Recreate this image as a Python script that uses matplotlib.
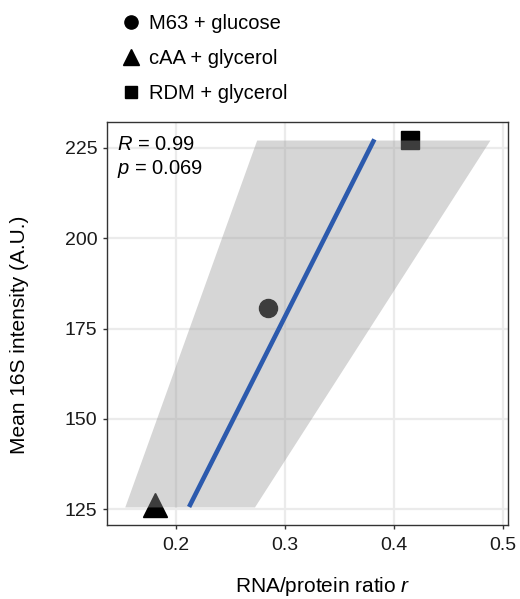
import numpy as np
import matplotlib
matplotlib.use('Agg')
from matplotlib import pyplot as plt
from matplotlib.lines import Line2D

plt.rcParams['font.family'] = ['Liberation Sans', 'DejaVu Sans']
plt.rcParams['mathtext.fontset'] = 'custom'
plt.rcParams['mathtext.it'] = 'Liberation Sans:italic'
plt.rcParams['mathtext.rm'] = 'Liberation Sans'

conditions = ['M63 + glucose', 'cAA + glycerol', 'RDM + glycerol']
markers = ['o', '^', 's']
ratio = [0.284, 0.181, 0.415]
intensity = [180.8, 126.1, 227.2]

# regression line and confidence band
fit_x = [0.212, 0.382]
fit_y = [125.6, 227.4]
band_y = [125.6, 227.2]
band_lo = [0.153, 0.274]
band_hi = [0.272, 0.488]

x_ticks = [0.2, 0.3, 0.4, 0.5]
y_ticks = [125, 150, 175, 200, 225]

fig = plt.figure(figsize=(5.2, 5.99), dpi=100)
ax = fig.add_axes([107 / 520, 1 - 525 / 599, 401 / 520, 403 / 599])

marker_sizes = {'o': 13, '^': 17, 's': 12.5}
for label, m, x, y in zip(conditions, markers, ratio, intensity):
    ax.plot([x], [y], marker=m, color='black', ms=marker_sizes[m],
            ls='none', zorder=2)

ax.fill_betweenx(band_y, band_lo, band_hi, color='#999999', alpha=0.4,
                 lw=0, zorder=3)
ax.plot(fit_x, fit_y, color='#2c5aad', lw=3.3, solid_capstyle='butt',
        zorder=4)

ax.set_xlim(0.1367, 0.5046)
ax.set_ylim(120.6, 232.2)
ax.set_xticks(x_ticks)
ax.set_xticklabels([f'{v:g}' for v in x_ticks])
ax.set_yticks(y_ticks)
ax.grid(True, color='#ebebeb', lw=1.6, zorder=0)
ax.set_axisbelow(True)
for side in ax.spines.values():
    side.set_color('#333333')
    side.set_linewidth(1.0)
ax.tick_params(length=3, width=1, color='#333333', labelsize=14,
               labelcolor='#1a1a1a')
ax.tick_params(axis='x', pad=6)
ax.tick_params(axis='y', pad=4)

ax.set_xlabel('RNA/protein ratio $\\it{r}$', fontsize=15)
ax.set_ylabel('Mean 16S intensity (A.U.)', fontsize=15)
ax.xaxis.set_label_coords((323 - 107) / 401, (525 - 587) / 403)
ax.yaxis.set_label_coords((20 - 107) / 401, (525 - 335) / 403)
ax.xaxis.label.set_va('center')
ax.yaxis.label.set_va('center')

ax.text((117 - 107) / 401, (525 - 145) / 403, '$\\it{R}$ = 0.99',
        transform=ax.transAxes, fontsize=14.5, va='center', ha='left')
ax.text((117 - 107) / 401, (525 - 169) / 403, '$\\it{p}$ = 0.069',
        transform=ax.transAxes, fontsize=14.5, va='center', ha='left')

legend_sizes = {'o': 9.5, '^': 11.5, 's': 8.5}
handles = [Line2D([], [], marker=m, color='black', ls='none',
                  ms=legend_sizes[m]) for m in markers]
fig.legend(handles, conditions, loc='upper left',
           bbox_to_anchor=(108 / 520, 1 - 6 / 599), frameon=False,
           fontsize=14.5, handletextpad=0.15, labelspacing=0.8,
           handlelength=1.5, borderaxespad=0)

fig.savefig('out.png', dpi=100)
